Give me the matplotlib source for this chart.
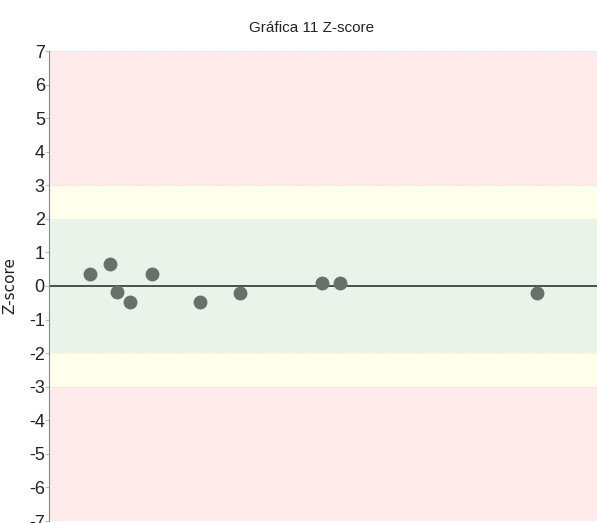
import matplotlib
matplotlib.use("Agg")
import matplotlib.pyplot as plt

title = "Gráfica 11 Z-score"
y_label = "Z-score"
x_pos = [41, 61, 68, 81, 103, 151, 191, 273, 291, 488]
z_scores = [0.35, 0.65, -0.19, -0.48, 0.35, -0.48, -0.2, 0.08, 0.08, -0.2]
y_ticks = list(range(-7, 8))
x_range = (0, 548)

fig = plt.figure(figsize=(5.97, 5.23), dpi=100)
ax = fig.add_axes([49/597, 2/523, 548/597, 470/523])

ax.axhspan(3, 7, color='#FFEBEB', lw=0, zorder=0)
ax.axhspan(-7, -3, color='#FFEBEB', lw=0, zorder=0)
ax.axhspan(2, 3, color='#FFFFEB', lw=0, zorder=0)
ax.axhspan(-3, -2, color='#FFFFEB', lw=0, zorder=0)
ax.axhspan(-2, 2, color='#EAF3EA', lw=0, zorder=0)
for v, c in [(3, '#F7D8D8'), (-3, '#F7D8D8'), (2, '#F2F2D8'), (-2, '#F2F2D8'), (7, '#F7D8D8')]:
    ax.axhline(v, color=c, lw=0.8, ls=(0, (1, 1)), zorder=1)

ax.axhline(0, color='#333333', lw=1.2, zorder=2)
ax.plot(x_pos, z_scores, 'o', color='#687169', ms=10, mec='none', zorder=3)

ax.set_xlim(*x_range)
ax.set_ylim(-7, 7)
ax.set_yticks(y_ticks)
ax.set_yticklabels([str(t) for t in y_ticks], fontfamily='Liberation Sans', fontsize=13, color='#222222')
ax.set_xticks([])
for s in ['top', 'right', 'bottom']:
    ax.spines[s].set_visible(False)
ax.spines['left'].set_color('#888888')
ax.tick_params(axis='y', length=3, width=0.8, color='#bbbbbb', pad=0)

ax.set_ylabel(y_label, fontsize=11, color='#222222', family='DejaVu Sans')
ax.yaxis.set_label_coords(-32/548, 0.5)
fig.text(0.522, 0.947, title, ha='center', va='center', fontsize=11, family='Liberation Sans', color='#222222')

fig.savefig('out.png', dpi=100)
